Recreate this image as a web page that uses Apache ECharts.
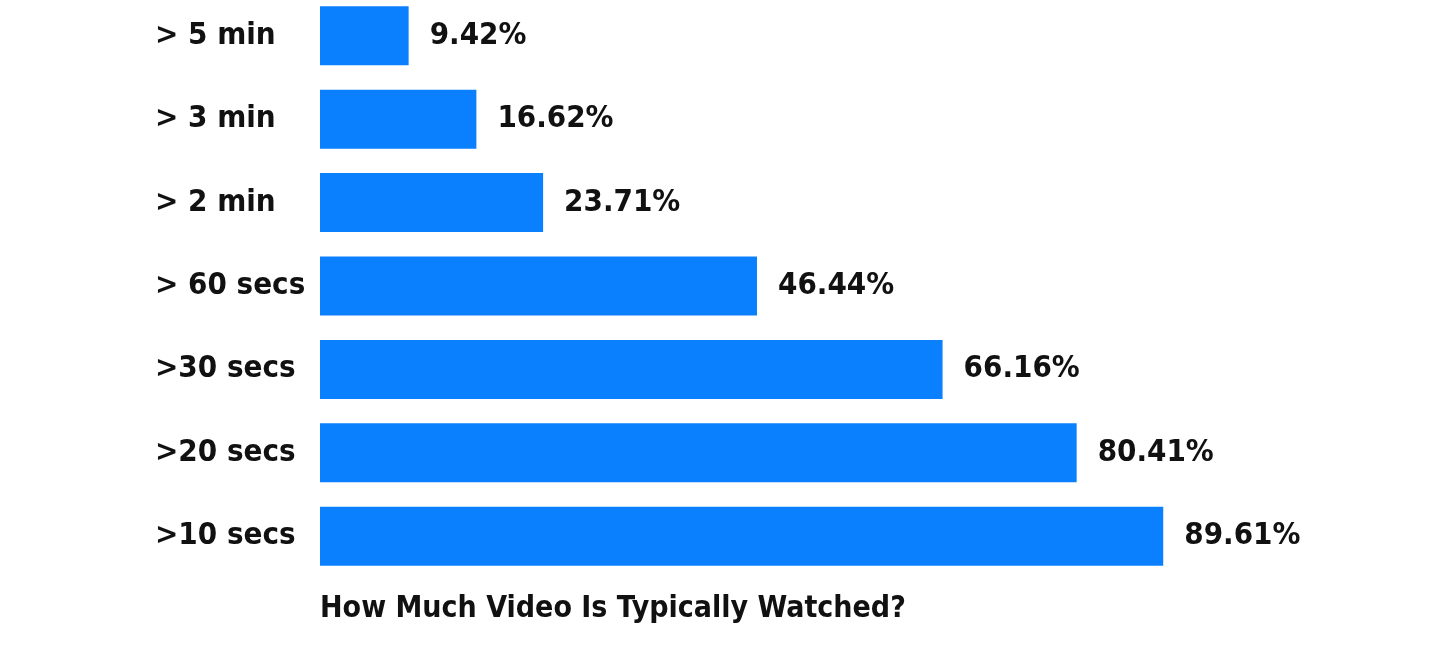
<!DOCTYPE html>
<html>
<head>
<meta charset="utf-8">
<script src="https://cdn.jsdelivr.net/npm/echarts@6/dist/echarts.min.js"></script>
<style>
  html, body { margin: 0; padding: 0; background: #ffffff; }
  #chart { width: 1456px; height: 646px; }
</style>
</head>
<body>
<div id="chart"></div>
<script>
var categories = ['> 5 min', '> 3 min', '> 2 min', '> 60 secs', '>30 secs', '>20 secs', '>10 secs'];
var watched = [9.42, 16.62, 23.71, 46.44, 66.16, 80.41, 89.61];
var chartTitle = 'How Much Video Is Typically Watched?';

var FONT = '"DejaVu Sans Condensed", "Liberation Sans Narrow", sans-serif';

var chart = echarts.init(document.getElementById('chart'));
var option = {
    backgroundColor: '#ffffff',
    animation: false,
    title: {
        text: chartTitle,
        left: 320,
        top: 594,
        padding: 0,
        textStyle: {
            fontFamily: FONT,
            fontWeight: 'bold',
            fontSize: 30,
            color: '#111111'
        }
    },
    grid: {
        left: 320,
        top: -6,
        width: 941,
        height: 584,
        outerBoundsMode: 'none'   // keep grid where it is, labels may overflow
    },
    xAxis: {
        type: 'value',
        min: 0,
        max: 100,
        show: false
    },
    yAxis: {
        type: 'category',
        inverse: true,
        data: categories,
        axisLine: { show: false },
        axisTick: { show: false },
        splitLine: { show: false },
        axisLabel: {
            align: 'left',
            margin: 165,
            fontFamily: FONT,
            fontWeight: 'bold',
            fontSize: 31,
            color: '#111111'
        }
    },
    series: [
        {
            type: 'bar',
            data: watched,
            barWidth: 59,
            itemStyle: { color: '#0a80ff' },
            label: {
                show: true,
                position: 'right',
                distance: 21,
                formatter: '{c}%',
                fontFamily: FONT,
                fontWeight: 'bold',
                fontSize: 31,
                color: '#111111'
            }
        }
    ]
};
chart.setOption(option);
</script>
</body>
</html>
